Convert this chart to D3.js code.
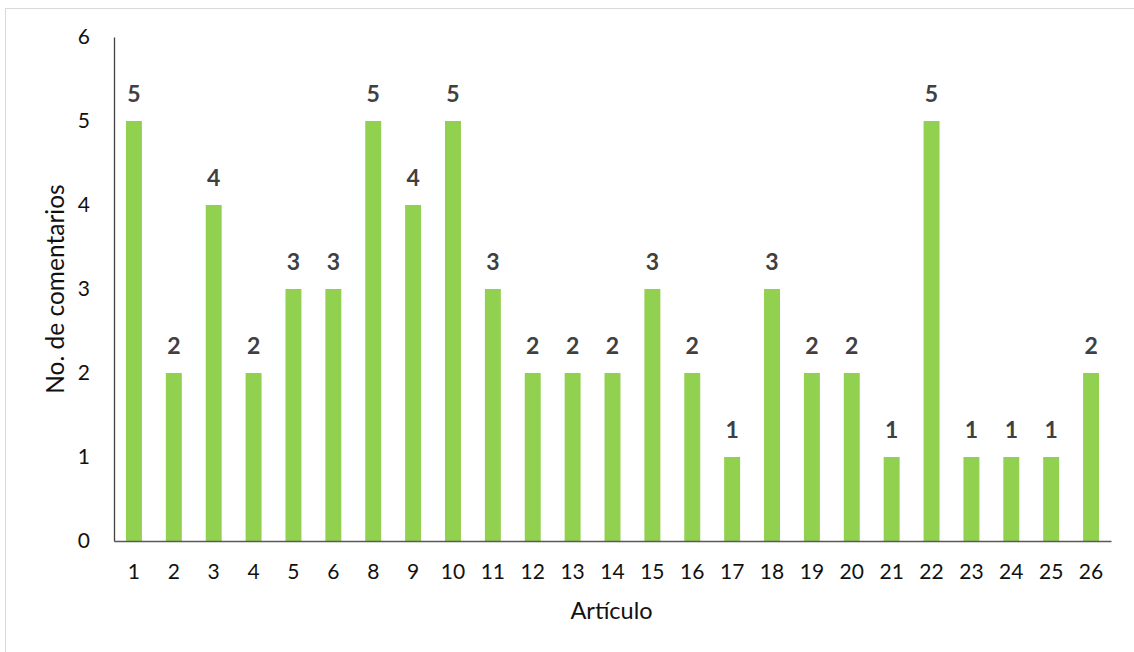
<!DOCTYPE html>
<html><head><meta charset="utf-8">
<script src="https://cdn.jsdelivr.net/npm/d3@7"></script>
<style>body{margin:0;background:#fff}svg{display:block}</style>
</head><body><svg id="c" width="1134" height="652"></svg>
<script>
const categories = ["1","2","3","4","5","6","8","9","10","11","12","13","14","15","16","17","18","19","20","21","22","23","24","25","26"];
const values = [5,2,4,2,3,3,5,4,5,3,2,2,2,3,2,1,3,2,2,1,5,1,1,1,2];
const yTicks = [0,1,2,3,4,5,6];
const xTitle = "Artículo";
const yTitle = "No. de comentarios";

const svg = d3.select("#c");
const W = 1134, H = 652;
const m = {left:114, right:1111, top:37, bottom:541};

svg.append("rect").attr("x",5.5).attr("y",8.5).attr("width",W+10).attr("height",H+10)
  .attr("fill","#fff").attr("stroke","#d9d9d9").attr("stroke-width",1);

const x = d3.scaleBand().domain(categories).range([m.left,m.right]).paddingInner(0.6).paddingOuter(0.3);
const y = d3.scaleLinear().domain([0,6]).range([m.bottom,m.top]);

svg.selectAll("rect.bar").data(values).enter().append("rect").attr("class","bar")
  .attr("x",(d,i)=>x(categories[i])).attr("width",x.bandwidth())
  .attr("y",d=>y(d)).attr("height",d=>y(0)-y(d)).attr("fill","#92d050");

svg.selectAll("text.lbl").data(values).enter().append("text").attr("class","lbl")
  .attr("x",(d,i)=>x(categories[i])+x.bandwidth()/2).attr("y",d=>y(d)-19)
  .attr("text-anchor","middle").attr("font-family","Lato").attr("font-weight","bold")
  .attr("font-size",23).attr("fill","#404040").text(d=>d);

const yAxis = d3.axisLeft(y).tickValues(yTicks).tickSize(0).tickPadding(24).tickFormat(d3.format("d"));
const gy = svg.append("g").attr("transform",`translate(${m.left},0)`).call(yAxis);
gy.select(".domain").attr("stroke","#404040").attr("stroke-width",1.3);
gy.selectAll("text").attr("font-family","Lato").attr("font-size",21).attr("fill","#111");

const xAxis = d3.axisBottom(x).tickSize(0).tickPadding(23);
const gx = svg.append("g").attr("transform",`translate(0,${m.bottom})`).call(xAxis);
gx.select(".domain").attr("stroke","#595959").attr("stroke-width",1.3);
gx.selectAll("text").attr("font-family","Lato").attr("font-size",21).attr("fill","#111");

svg.append("text").attr("x",611.5).attr("y",619).attr("text-anchor","middle")
  .attr("font-family","Lato").attr("font-size",23.5).attr("fill","#111").text(xTitle);
svg.append("text").attr("transform","translate(64,289) rotate(-90)").attr("text-anchor","middle")
  .attr("font-family","Lato").attr("font-size",24.5).attr("fill","#111").text(yTitle);
</script></body></html>
